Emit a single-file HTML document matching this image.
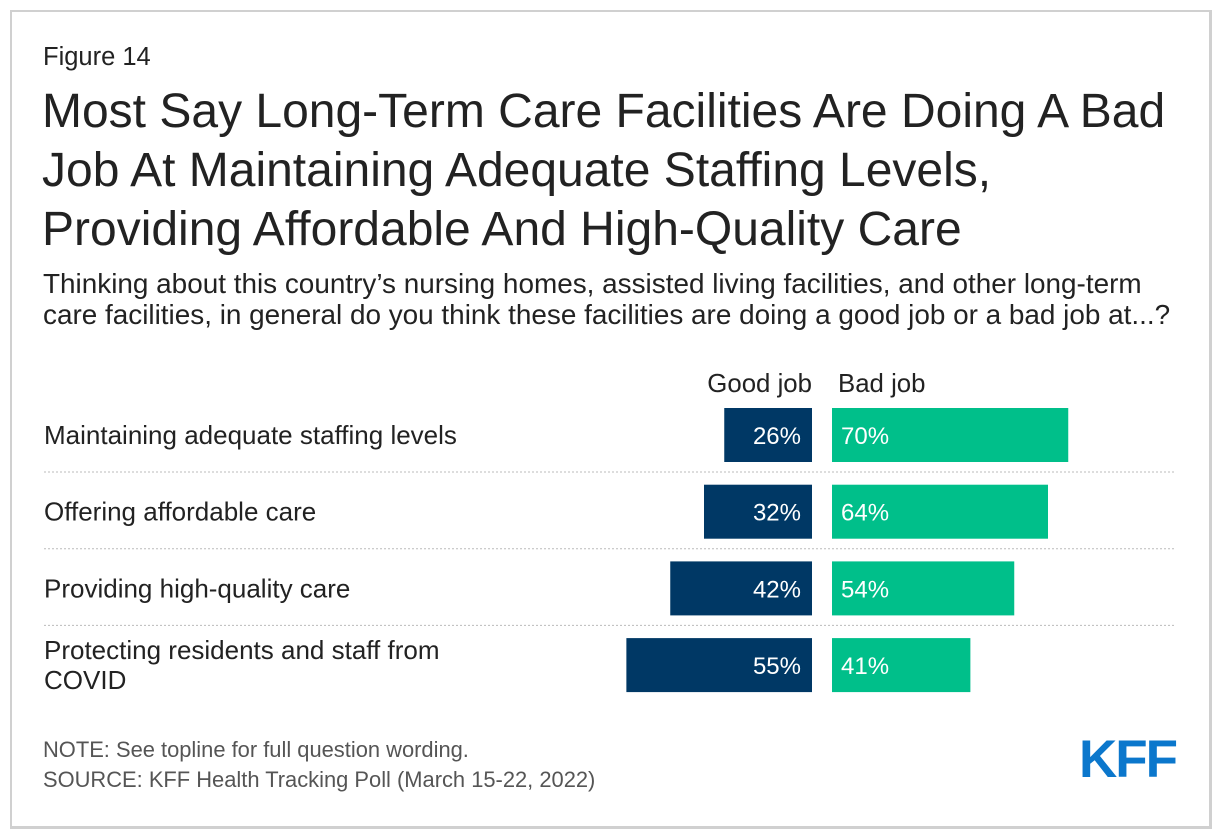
<!DOCTYPE html>
<html><head><meta charset="utf-8"><style>
body{margin:0;width:1220px;height:836px;background:#fff;font-family:"Liberation Sans",sans-serif;position:relative;overflow:hidden}
.frame{position:absolute;left:10px;top:10px;width:1197px;height:814px;border:2px solid #d0d0d0;border-right-width:3px;border-bottom-width:3px}
.t{position:absolute;color:#222;white-space:nowrap}
</style></head><body>
<div class="frame"></div>
<div class="t" style="left:43px;top:43px;font-size:25.5px">Figure 14</div>
<div class="t" style="left:42px;top:82px;font-size:48px;line-height:59px">Most Say Long-Term Care Facilities Are Doing A Bad<br>Job At Maintaining Adequate Staffing Levels,<br>Providing Affordable And High-Quality Care</div>
<div class="t" style="left:43px;top:268px;font-size:27.9px;line-height:31px">Thinking about this country’s nursing homes, assisted living facilities, and other long-term<br>care facilities, in general do you think these facilities are doing a good job or a bad job at...?</div>
<svg id="chart" width="1220" height="836" style="position:absolute;left:0;top:0"></svg>
<div class="t" style="left:43px;top:737px;font-size:21.9px;color:#555">NOTE: See topline for full question wording.</div>
<div class="t" style="left:43px;top:767px;font-size:21.9px;color:#555">SOURCE: KFF Health Tracking Poll (March 15-22, 2022)</div>
<div class="t" style="left:1079px;top:729px;font-size:53px;font-weight:bold;color:#0b77cc;letter-spacing:-2px">KFF</div>
<script>
const categories=["Maintaining adequate staffing levels","Offering affordable care","Providing high-quality care","Protecting residents and staff from COVID"];
const goodJob=[26,32,42,55];
const badJob=[70,64,54,41];
const svg=document.getElementById('chart');
const NS='http://www.w3.org/2000/svg';
const scale=v=>v*3.375;
const goodRight=812, badLeft=832;
const rowY=i=>408+i*76.7;
function mk(tag,attrs,txt){const e=document.createElementNS(NS,tag);for(const k in attrs)e.setAttribute(k,attrs[k]);if(txt!==undefined)e.textContent=txt;svg.appendChild(e);return e;}
let h1=mk('text',{x:goodRight,y:392,'text-anchor':'end','font-size':25.8,fill:'#222','font-family':'Liberation Sans'},'Good job');


let h2=mk('text',{x:badLeft+6,y:392,'font-size':25.8,fill:'#222','font-family':'Liberation Sans'},'Bad job');


categories.forEach((c,i)=>{
  const y=rowY(i);
  const lbl=mk('text',{x:44,'font-size':26,fill:'#222','font-family':'Liberation Sans'});
  
  
  const words=c.length>40?["Protecting residents and staff from","COVID"]:[c];
  words.forEach((w,j)=>{const ts=document.createElementNS(NS,'tspan');ts.setAttribute('x',44);ts.setAttribute('y',words.length>1?y+21+j*30:y+36);ts.textContent=w;lbl.appendChild(ts);});
  const gw=scale(goodJob[i]);
  const gb=mk('rect',{x:goodRight-gw,y:y,width:gw,height:54,fill:'#003865'});
  
  
  mk('text',{x:goodRight-11,y:y+36,'text-anchor':'end','font-size':24,fill:'#fff','font-family':'Liberation Sans'},goodJob[i]+'%');
  const bw=scale(badJob[i]);
  const bb=mk('rect',{x:badLeft,y:y,width:bw,height:54,fill:'#00bf8a'});
  
  
  mk('text',{x:badLeft+9,y:y+36,'font-size':24,fill:'#fff','font-family':'Liberation Sans'},badJob[i]+'%');
  if(i<categories.length-1){
    const l=mk('line',{x1:44,x2:1176,y1:y+64,y2:y+64,stroke:'#bbb','stroke-width':1,'stroke-dasharray':'2,2'});
    
    
  }
});
</script>
</body></html>
